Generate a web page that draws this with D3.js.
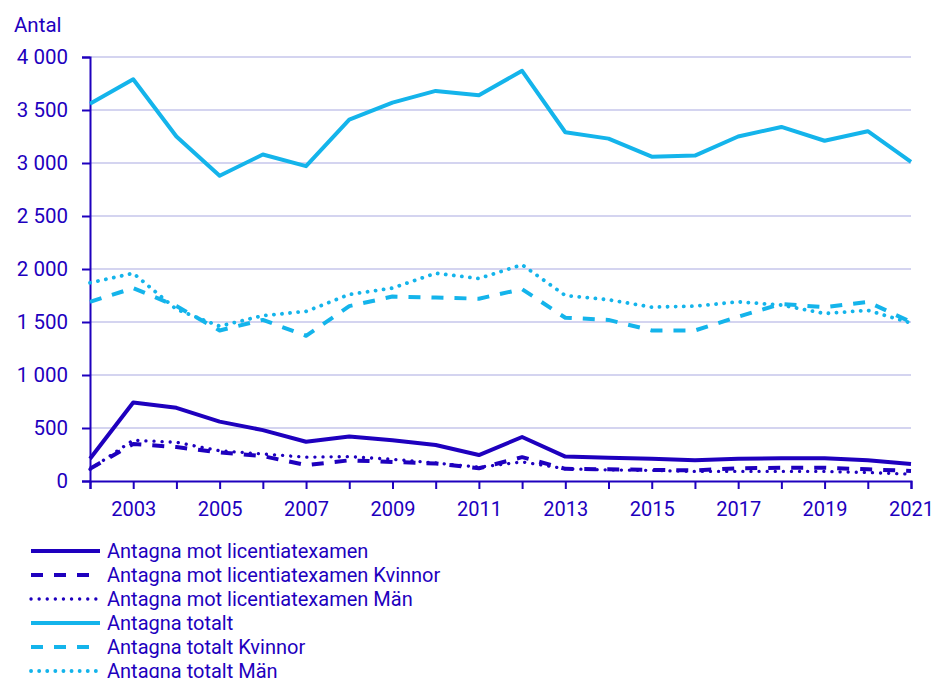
<!DOCTYPE html>
<html>
<head>
<meta charset="utf-8">
<script src="https://d3js.org/d3.v7.min.js"></script>
<style>
  body { margin: 0; background: #fff; }
  text { font-family: Roboto, "Noto Sans", sans-serif; fill: #1e00be; }
</style>
</head>
<body>
<script>
// data
var years = d3.range(2002, 2022);
var licTotal   = [210, 740, 690, 560, 480, 370, 420, 385, 340, 245, 415, 230, 220, 210, 195, 210, 215, 215, 195, 160];
var licKvinnor = [115, 350, 320, 270, 235, 150, 195, 180, 165, 120, 225, 115, 110, 105, 100, 120, 125, 125, 110, 95];
var licMan     = [110, 385, 365, 285, 255, 225, 230, 205, 170, 130, 180, 115, 105, 100, 90, 90, 90, 90, 80, 65];
var totTotal   = [3560, 3790, 3250, 2880, 3080, 2970, 3410, 3570, 3680, 3640, 3870, 3290, 3230, 3060, 3070, 3250, 3340, 3210, 3300, 3010];
var totKvinnor = [1690, 1820, 1650, 1420, 1520, 1370, 1650, 1740, 1730, 1720, 1810, 1540, 1520, 1420, 1420, 1550, 1670, 1640, 1690, 1500];
var totMan     = [1870, 1960, 1620, 1460, 1560, 1600, 1760, 1820, 1960, 1910, 2040, 1750, 1710, 1640, 1650, 1690, 1660, 1580, 1610, 1490];
var yTicks = [0, 500, 1000, 1500, 2000, 2500, 3000, 3500, 4000];
var xLabelYears = [2003, 2005, 2007, 2009, 2011, 2013, 2015, 2017, 2019, 2021];

var dark = "#1e00be", light = "#14b4eb";
var series = [
  {name: "Antagna mot licentiatexamen", values: licTotal, color: dark, dash: null, w: 4},
  {name: "Antagna mot licentiatexamen Kvinnor", values: licKvinnor, color: dark, dash: "12,11", w: 4},
  {name: "Antagna mot licentiatexamen Män", values: licMan, color: dark, dash: "0.1,8", w: 3.3},
  {name: "Antagna totalt", values: totTotal, color: light, dash: null, w: 4},
  {name: "Antagna totalt Kvinnor", values: totKvinnor, color: light, dash: "12,11", w: 4},
  {name: "Antagna totalt Män", values: totMan, color: light, dash: "0.1,8", w: 3.8}
];

var W = 939, H = 678;
var mLeft = 90, mRight = 911, mTop = 57, mBottom = 481;

var svg = d3.select("body").append("svg").attr("width", W).attr("height", H);

var x = d3.scaleLinear().domain([2002, 2021]).range([mLeft, mRight]);
var y = d3.scaleLinear().domain([0, 4000]).range([mBottom, mTop]);
var fmt = function(d) { return d3.format(",")(d).replace(",", " "); };

// grid
svg.append("g").selectAll("line")
  .data(yTicks.filter(function(d) { return d > 0; }))
  .enter().append("line")
  .attr("x1", mLeft).attr("x2", mRight)
  .attr("y1", function(d) { return y(d); }).attr("y2", function(d) { return y(d); })
  .attr("stroke", "#d4d4f0").attr("stroke-width", 2);

// y axis
var yAxis = svg.append("g").attr("transform", "translate(" + mLeft + ",0)")
  .call(d3.axisLeft(y).tickValues(yTicks).tickFormat(fmt).tickSize(8).tickPadding(14));
yAxis.select(".domain").attr("stroke", dark).attr("stroke-width", 2);
yAxis.selectAll(".tick line").attr("stroke", dark).attr("stroke-width", 2);
yAxis.selectAll("text").style("font-size", "20.5px").attr("fill", dark);

// x axis
var xAxis = svg.append("g").attr("transform", "translate(0," + mBottom + ")")
  .call(d3.axisBottom(x).tickValues(years).tickSize(8).tickPadding(13)
    .tickFormat(function(d) { return xLabelYears.indexOf(d) >= 0 ? d : ""; }));
xAxis.select(".domain").attr("stroke", dark).attr("stroke-width", 2);
xAxis.selectAll(".tick line").attr("stroke", dark).attr("stroke-width", 2);
xAxis.selectAll("text").style("font-size", "20px").attr("fill", dark);

svg.append("text").attr("x", 14).attr("y", 32).style("font-size", "20.5px").text("Antal");

// lines
var line = d3.line()
  .x(function(d, i) { return x(years[i]); })
  .y(function(d) { return y(d); });

series.slice().reverse().forEach(function(s) {
  svg.append("path")
    .datum(s.values)
    .attr("d", line)
    .attr("fill", "none")
    .attr("stroke", s.color)
    .attr("stroke-width", s.w)
    .attr("stroke-linecap", s.dash && s.dash.indexOf("0.1") === 0 ? "round" : "butt")
    .attr("stroke-linejoin", "round")
    .attr("stroke-dasharray", s.dash);
});

// legend
var leg = svg.append("g").selectAll("g").data(series).enter().append("g")
  .attr("transform", function(d, i) { return "translate(0," + (551 + i * 24) + ")"; });
leg.append("line")
  .attr("x1", 31).attr("x2", 100).attr("y1", 0).attr("y2", 0)
  .attr("stroke", function(d) { return d.color; })
  .attr("stroke-width", function(d) { return d.w; })
  .attr("stroke-linecap", function(d) { return d.dash && d.dash.indexOf("0.1") === 0 ? "round" : "butt"; })
  .attr("stroke-dasharray", function(d) { return d.dash; });
leg.append("text")
  .attr("x", 107).attr("y", 7)
  .style("font-size", "20px")
  .text(function(d) { return d.name; });
</script>
</body>
</html>
